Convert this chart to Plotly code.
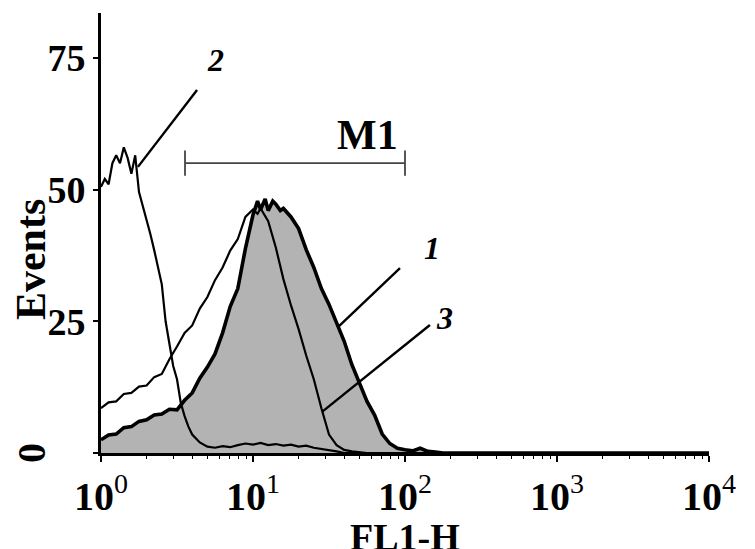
import plotly.graph_objects as go

# ---- data (log10 of FL1-H channel, Events) ----
c1_log = [0.00, 0.05, 0.10, 0.15, 0.20, 0.25, 0.30, 0.35, 0.40, 0.45, 0.50, 0.55,
          0.60, 0.65, 0.70, 0.75, 0.80, 0.85, 0.90, 0.95, 1.00, 1.03, 1.05, 1.08,
          1.10, 1.13, 1.15, 1.18, 1.20, 1.25, 1.30, 1.35, 1.40, 1.45, 1.50, 1.55,
          1.60, 1.65, 1.70, 1.75, 1.80, 1.85, 1.90, 1.95, 2.00, 2.05, 2.10, 2.15,
          2.20, 2.25, 4.00]
c1_events = [2.5, 3.4, 3.6, 4.8, 5.0, 6.0, 6.3, 7.2, 7.4, 8.3, 8.2, 10.0,
             11.4, 14.2, 16.3, 18.8, 22.8, 27.8, 31.2, 38.8, 45.2, 47.8, 46.2, 48.2,
             46.0, 47.8, 47.2, 46.0, 46.4, 44.8, 42.6, 38.6, 35.2, 31.2, 28.2, 24.6,
             21.2, 16.8, 13.2, 9.8, 7.2, 3.6, 1.8, 0.9, 0.6, 0.4, 0.9, 0.3,
             0.2, 0.0, 0.0]

c3_log = [0.00, 0.05, 0.10, 0.15, 0.20, 0.25, 0.30, 0.35, 0.40, 0.45, 0.50, 0.55,
          0.60, 0.65, 0.70, 0.75, 0.80, 0.85, 0.90, 0.95, 1.00, 1.03, 1.05, 1.10,
          1.15, 1.20, 1.25, 1.30, 1.35, 1.40, 1.45, 1.50, 1.55, 1.60, 1.65, 1.70,
          1.75, 4.00]
c3_events = [8.5, 9.6, 9.8, 11.2, 11.4, 12.6, 12.8, 14.4, 15.0, 17.8, 20.2, 22.8,
             24.2, 27.4, 29.6, 32.8, 35.2, 38.4, 40.6, 44.8, 46.2, 45.4, 46.4, 44.0,
             39.0, 33.0, 28.0, 23.5, 18.5, 14.0, 8.5, 3.5, 1.5, 0.6, 0.3, 0.2,
             0.0, 0.0]

c2_log = [0.000, 0.025, 0.050, 0.075, 0.100, 0.125, 0.150, 0.175, 0.200, 0.225,
          0.250, 0.275, 0.300, 0.325, 0.350, 0.375, 0.400, 0.425, 0.450, 0.475,
          0.500, 0.525, 0.550, 0.575, 0.600, 0.650, 0.700, 0.750, 0.800, 0.850,
          0.900, 0.950, 1.000, 1.050, 1.100, 1.150, 1.200, 1.250, 1.300, 1.350,
          1.400, 1.450, 1.500, 1.550, 1.600, 4.000]
c2_events = [50.5, 52.0, 51.0, 55.0, 56.5, 55.0, 58.0, 56.0, 53.0, 56.5,
             49.5, 47.0, 44.5, 41.5, 38.5, 35.5, 32.0, 25.0, 20.5, 16.5,
             14.0, 9.5, 7.0, 5.0, 3.5, 2.0, 1.2, 1.0, 1.3, 1.1,
             1.5, 1.8, 1.6, 1.9, 1.5, 1.7, 1.4, 1.6, 1.2, 1.4,
             1.0, 0.8, 0.6, 0.3, 0.0, 0.0]

x_tickvals = [1, 10, 100, 1000, 10000]
x_ticktext = ["<b>10</b><sup>0</sup>", "<b>10</b><sup>1</sup>", "<b>10</b><sup>2</sup>",
              "<b>10</b><sup>3</sup>", "<b>10</b><sup>4</sup>"]
y_tickvals = [0, 25, 50, 75]
y_ticktext = ["", "<b>25</b>", "<b>50</b>", "<b>75</b>"]

# M1 gate (FL1-H range) and its label height
m1_range = [3.57, 100]
m1_level = 55.0

# leader lines for curve labels: (label, label position, line start, line end) in (log10 x, events)
labels = [
    ("2", (0.75, 74.6), (0.632, 68.9), (0.243, 54.3)),
    ("1", (2.18, 38.9), (1.967, 35.1), (1.559, 23.9)),
    ("3", (2.26, 25.6), (2.164, 24.3), (1.454, 7.8)),
]

SERIF = "Liberation Serif"

fig = go.Figure()
fig.add_trace(go.Scatter(x=[10 ** v for v in c1_log], y=c1_events, mode="lines",
                         line=dict(color="black", width=3.6), fill="tozeroy",
                         fillcolor="#b3b3b3", showlegend=False))
fig.add_trace(go.Scatter(x=[10 ** v for v in c3_log], y=c3_events, mode="lines",
                         line=dict(color="black", width=2.2), showlegend=False))
fig.add_trace(go.Scatter(x=[10 ** v for v in c2_log], y=c2_events, mode="lines",
                         line=dict(color="black", width=2.2), showlegend=False))

shapes = []
for name, lp, p0, p1 in labels:
    shapes.append(dict(type="line", xref="x", yref="y",
                       x0=10 ** p0[0], y0=p0[1], x1=10 ** p1[0], y1=p1[1],
                       line=dict(color="black", width=2.4)))
# M1 bar
shapes.append(dict(type="line", xref="x", yref="y", x0=m1_range[0], x1=m1_range[1],
                   y0=m1_level, y1=m1_level, line=dict(color="#444444", width=1.8)))
for xv in m1_range:
    shapes.append(dict(type="line", xref="x", yref="y", x0=xv, x1=xv,
                       y0=m1_level - 2.4, y1=m1_level + 2.4,
                       line=dict(color="#444444", width=1.8)))

annotations = []
for name, lp, p0, p1 in labels:
    annotations.append(dict(x=lp[0], y=lp[1], xref="x", yref="y", text="<b><i>" + name + "</i></b>",
                            xanchor="center", yanchor="middle",
                            showarrow=False, font=dict(family=SERIF, size=32, color="black")))
annotations.append(dict(x=1.75, y=60.3, xref="x", yref="y", text="<b>M1</b>", showarrow=False,
                        xanchor="center", yanchor="middle",
                        font=dict(family=SERIF, size=42, color="black")))
annotations.append(dict(x=-0.114, y=0.44, xref="paper", yref="paper", text="<b>Events</b>",
                        textangle=-90, showarrow=False, xanchor="center", yanchor="middle",
                        font=dict(family=SERIF, size=42, color="black")))
annotations.append(dict(x=0.5, y=-0.19, xref="paper", yref="paper", text="<b>FL1-H</b>",
                        showarrow=False, xanchor="center", yanchor="middle",
                        font=dict(family=SERIF, size=38, color="black")))
annotations.append(dict(x=-0.115, y=0, xref="paper", yref="paper", text="<b>0</b>",
                        textangle=-90, showarrow=False, xanchor="center", yanchor="middle",
                        font=dict(family=SERIF, size=40, color="black")))

minor_x = [m * 10 ** d for d in range(4) for m in range(2, 10)]

fig.update_layout(
    width=747, height=541,
    margin=dict(l=93, r=46, t=5, b=96),
    paper_bgcolor="white", plot_bgcolor="white",
    shapes=shapes, annotations=annotations,
    xaxis=dict(type="log", range=[0, 4], tickvals=x_tickvals, ticktext=x_ticktext,
               showgrid=False, zeroline=False, showline=True, linecolor="black", linewidth=3,
               ticks="outside", ticklen=6, tickwidth=2, tickcolor="black",
               minor=dict(tickvals=minor_x, ticks="outside", ticklen=3, tickwidth=1,
                          tickcolor="black", showgrid=False),
               tickfont=dict(family=SERIF, size=40, color="black")),
    yaxis=dict(range=[0, 83.5], tickvals=y_tickvals, ticktext=y_ticktext,
               showgrid=False, zeroline=False, showline=True, linecolor="black", linewidth=3,
               ticks="outside", ticklen=5, tickwidth=2, tickcolor="black",
               tickfont=dict(family=SERIF, size=38, color="black")),
)

fig.write_html("out.html")
